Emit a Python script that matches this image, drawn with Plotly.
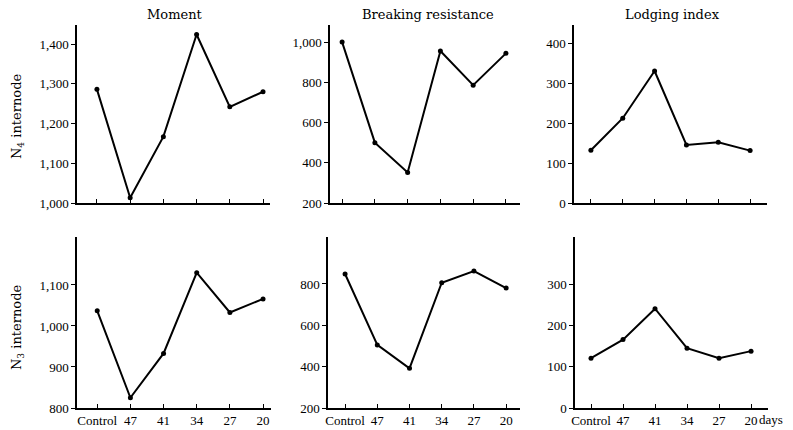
import plotly.graph_objects as go

categories = ["Control", "47", "41", "34", "27", "20"]
n4_moment = [1286, 1013, 1167, 1424, 1242, 1280]
n4_breaking = [1000, 500, 352, 956, 786, 944]
n4_lodging = [132, 212, 330, 145, 152, 131]
n3_moment = [1037, 825, 933, 1130, 1033, 1066]
n3_breaking = [848, 505, 392, 806, 862, 780]
n3_lodging = [121, 166, 241, 145, 121, 138]

titles = ["Moment", "Breaking resistance", "Lodging index"]
row_titles = ["N<sub>4</sub> internode", "N<sub>3</sub> internode"]

yt_n4_moment = [1000, 1100, 1200, 1300, 1400]
yt_n4_breaking = [200, 400, 600, 800, 1000]
yt_n4_lodging = [0, 100, 200, 300, 400]
yt_n3_moment = [800, 900, 1000, 1100]
yt_n3_breaking = [200, 400, 600, 800]
yt_n3_lodging = [0, 100, 200, 300]

W, H = 793, 430
FONT = "Liberation Serif"
TFONT = "DejaVu Serif"

panels = [
    # data, yticks, yrange, x px domain, y px domain(top,bottom), xrange, show x labels
    (n4_moment, yt_n4_moment, [1000, 1448], (77, 270), (25, 203), [-0.60, 5.21], False),
    (n4_breaking, yt_n4_breaking, [200, 1085], (330, 520), (25, 203), [-0.37, 5.43], False),
    (n4_lodging, yt_n4_lodging, [0, 445], (574, 767), (25, 203), [-0.53, 5.53], False),
    (n3_moment, yt_n3_moment, [800, 1217], (77, 271), (237, 408), [-0.61, 5.24], True),
    (n3_breaking, yt_n3_breaking, [200, 1027], (328, 520), (237, 408), [-0.53, 5.43], True),
    (n3_lodging, yt_n3_lodging, [0, 415], (575, 768), (237, 408), [-0.50, 5.53], True),
]

fig = go.Figure()
xs = list(range(len(categories)))
layout = {}
for i, (vals, yt, yr, xd, yd, xr, showx) in enumerate(panels):
    k = "" if i == 0 else str(i + 1)
    fig.add_trace(go.Scatter(
        x=xs, y=vals, mode="lines+markers",
        line=dict(color="black", width=2),
        marker=dict(color="black", size=5),
        xaxis="x" + k, yaxis="y" + k, showlegend=False,
    ))
    layout["xaxis" + k] = dict(
        domain=[xd[0] / W, xd[1] / W], anchor="y" + k, range=xr, automargin=False,
        tickvals=xs, ticktext=list(categories), showticklabels=showx, tickangle=0,
        ticks="inside", ticklen=4, tickwidth=1, tickcolor="black",
        showline=True, linecolor="black", linewidth=1.5,
        showgrid=False, zeroline=False,
        tickfont=dict(family=FONT, size=13, color="black"),
    )
    layout["yaxis" + k] = dict(
        domain=[1 - yd[1] / H, 1 - yd[0] / H], anchor="x" + k, range=yr, automargin=False,
        tickvals=yt, ticktext=[f"{v:,}" for v in yt],
        ticks="outside", ticklen=4, tickwidth=1, tickcolor="black",
        showline=True, linecolor="black", linewidth=1.5,
        showgrid=False, zeroline=False,
        tickfont=dict(family=FONT, size=13, color="black"),
    )

annotations = []
title_x = [175, 428, 672]
for t, x in zip(titles, title_x):
    annotations.append(dict(text=t, x=x / W, y=1 - 15 / H, xref="paper", yref="paper",
                            showarrow=False, xanchor="center", yanchor="middle",
                            font=dict(family=TFONT, size=13, color="black")))
for t, yc in zip(row_titles, [117, 328]):
    annotations.append(dict(text=t, x=17 / W, y=1 - yc / H, xref="paper", yref="paper",
                            showarrow=False, xanchor="center", yanchor="middle", textangle=-90,
                            font=dict(family=TFONT, size=13, color="black")))
annotations.append(dict(text="days", x=757 / W, y=1 - 419 / H, xref="paper", yref="paper",
                        showarrow=False, xanchor="left", yanchor="middle",
                        font=dict(family=FONT, size=13, color="black")))

fig.update_layout(
    width=W, height=H, margin=dict(l=0, r=0, t=0, b=0),
    paper_bgcolor="white", plot_bgcolor="white",
    annotations=annotations, **layout,
)
fig.write_html("out.html")
